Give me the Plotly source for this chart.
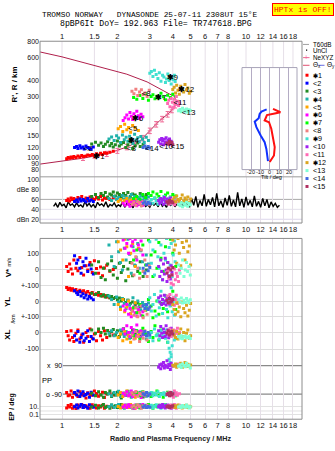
import numpy as np
import plotly.graph_objects as go

W, H = 335, 451
SANS = "Liberation Sans, Arial, Helvetica, sans-serif"
MONO = "Liberation Mono, DejaVu Sans Mono, monospace"


def px(x):
    return x / W


def py(y):
    return 1 - y / H


# ---------------------------------------------------------------- text
TITLE_1 = "TROMSO NORWAY   DYNASONDE 25-07-11 2308UT 15°E"
TITLE_2 = "8pBP6It DoY= 192.963 File= TR747618.BPG"
STATUS = "HPTx is OFF!"

FREQ_TICKS = [1, 1.5, 2, 3, 4, 5, 6, 7, 8, 10, 12, 14, 16, 18]
FREQ_TICK_TEXT = ["1", "1.5", "2", "3", "4", "5", "6", "7", "8", "10", "12", "14", "16", "18"]
RANGE_TICKS = [80, 90, 100, 120, 150, 200, 300, 400, 600, 800]
DB_TICKS = [100, 80, 60, 40, 20]
DB_TICK_TEXT = ["100", "dBe 80", "60", "40", "dBn 20"]
TILT_TICKS = [-20, -10, 0, 10, 20]

# ---------------------------------------------------------------- sources
SOURCE_NAMES = ["*1", "<2", "<3", "*4", "<5", "*6", "*7", "<8", "*9", "<10",
                "<11", "*12", "<13", "<14", "<15"]
SOURCE_COLORS = ["#ff0000", "#0000ff", "#228b22", "#20b2aa", "#ffa500", "#ff00ff",
                 "#00ff00", "#f08080", "#40e0d0", "#a020f0", "#ff69b4", "#daa520",
                 "#7fffd4", "#4169e1", "#b03060"]
LABEL_F = [1.48, 1.31, 2.25, 2.27, 2.29, 2.39, 3.2, 2.71, 3.7, 3.38, 4.03, 4.29, 4.48, 2.83, 3.9]
LABEL_H = [100.7, 115.7, 116.5, 134, 166, 201, 290, 312, 415, 120.7, 268, 338, 223, 116.5, 120.7]

# echo parameters per source: frequency MHz, range km, amplitude dBe,
# Doppler V* m/s, YL km, XL km, polarisation PP deg, EP deg
s1_f = [1.06, 1.08, 1.1, 1.12, 1.14, 1.16, 1.19, 1.22, 1.25, 1.28, 1.31, 1.35, 1.38, 1.42, 1.46, 1.5, 1.54, 1.58, 1.62, 1.66, 1.7, 1.75, 1.82, 1.9]
s1_h = [98, 100, 99, 101, 100, 102, 100, 103, 101, 104, 102, 103, 105, 104, 106, 103, 107, 105, 108, 106, 109, 108, 110, 112]
s1_db = [58, 61, 57, 63, 60, 62, 59, 64, 61, 66, 60, 63, 58, 65, 62, 60, 64, 61, 66, 59, 63, 62, 60, 64]
s1_vs = [20, -10, 35, 5, -25, 60, 10, -5, 75, 15, -30, 25, 0, 45, -15, 55, 8, -20, 18, -35, 12, 28, -8, 3]
s1_yl = [82, 70, 78, 66, 74, 62, 70, 58, 66, 55, 62, 50, 58, 46, 52, 40, 45, 35, 40, 30, 34, 25, 20, 15]
s1_xl = [5, -20, -45, 10, -30, -55, -5, 15, -40, -15, -60, 0, -25, 20, -35, -10, -50, 5, -20, -45, 10, -30, 0, -15]
s1_pp = [-80, -100, -95, -70, -110, -85, -90, -105, -75, -95, -88, -115, -82, -92, -98, -70, -86, -104, -94, -78, -112, -90, -84, -96]
s1_ep = [6, 25, 10, 40, 5, 15, 4, 30, 12, 45, 7, 20, 9, 5, 35, 14, 6, 22, 10, 28, 5, 16, 11, 8]

s2_f = [1.17, 1.2, 1.22, 1.25, 1.27, 1.3, 1.32, 1.35, 1.38, 1.41, 1.44, 1.48]
s2_h = [120, 122, 118, 124, 119, 121, 117, 123, 120, 118, 116, 121]
s2_db = [56, 59, 55, 61, 57, 60, 58, 55, 62, 57, 59, 56]
s2_vs = [85, 40, 60, 10, -20, 50, 25, 70, -10, 30, 5, -25]
s2_yl = [62, 50, 40, 58, 30, 45, 20, 35, 12, 28, 18, 8]
s2_xl = [-20, -45, 5, -60, -30, -10, -50, -35, 10, -55, -25, -40]
s2_pp = [-80, -95, -70, -105, -88, -75, -100, -92, -85, -110, -78, -96]
s2_ep = [11, 30, 6, 18, 40, 8, 25, 12, 5, 35, 15, 9]

s3_f = [1.45, 1.52, 1.58, 1.63, 1.68, 1.72, 1.77, 1.82, 1.86, 1.9, 1.95, 2.0, 2.05, 2.1, 2.16, 2.22, 2.28, 2.35, 2.42, 2.5, 2.58, 2.66, 2.76, 2.88]
s3_h = [128, 132, 125, 130, 122, 127, 133, 124, 129, 121, 126, 135, 123, 128, 131, 120, 126, 133, 118, 124, 130, 122, 127, 119]
s3_db = [66, 70, 64, 72, 68, 74, 65, 71, 69, 75, 67, 73, 70, 64, 72, 68, 74, 66, 71, 69, 63, 72, 67, 70]
s3_vs = [30, -20, 50, -45, 10, -60, 35, -5, 55, -30, 15, -50, 40, -15, 20, -65, 5, 45, -35, 25, -10, 50, -40, 0]
s3_yl = [48, 40, 52, 30, 38, 25, 33, 20, 28, 15, 22, 8, 18, 0, 10, -8, 5, -15, -5, -25, -12, -35, -20, -45]
s3_xl = [15, -5, 20, 0, 25, -10, 12, -20, 5, 18, -15, 10, -25, 8, 22, -8, 0, -30, 14, -12, 6, -22, 2, -18]
s3_pp = [-85, -100, -75, -95, -110, -80, -90, -70, -105, -88, -96, -78, -92, -115, -84, -98, -72, -90, -102, -86, -94, -80, -108, -90]
s3_ep = [10, 28, 6, 18, 40, 8, 14, 5, 32, 12, 22, 7, 16, 45, 9, 26, 11, 36, 6, 19, 13, 30, 8, 24]

s4_f = [1.8, 1.86, 1.92, 1.98, 2.03, 2.08, 2.13, 2.18, 2.23, 2.28, 2.33, 2.38, 2.43, 2.48, 2.53, 2.58, 2.63, 2.68, 2.74, 2.8, 2.87, 2.95]
s4_h = [140, 145, 136, 148, 142, 131, 150, 138, 144, 134, 147, 140, 129, 152, 137, 143, 133, 146, 139, 131, 144, 136]
s4_db = [62, 58, 66, 60, 64, 59, 68, 61, 65, 57, 63, 70, 60, 66, 58, 64, 62, 67, 59, 63, 61, 65]
s4_vs = [150, 80, 20, 170, 110, 45, 0, 130, 60, 185, 95, -20, 140, 30, 75, 160, 10, 115, 50, -10, 90, 35]
s4_yl = [30, 10, -20, 25, -5, -35, 15, -15, -45, 5, -25, -50, 20, -10, -40, 0, -30, -54, -8, -20, -38, -12]
s4_xl = [-5, 10, -20, 0, -30, 15, -10, -25, 5, -15, -35, 0, -8, -22, 12, -18, -3, -28, 6, -12, -40, -6]
s4_pp = [-88, -100, -80, -95, -72, -105, -90, -84, -98, -76, -92, -110, -86, -94, -82, -100, -88, -78, -96, -90, -104, -85]
s4_ep = [12, 30, 7, 20, 42, 9, 15, 5, 26, 11, 34, 8, 18, 6, 24, 13, 38, 10, 16, 7, 28, 12]

s5_f = [2.02, 2.08, 2.14, 2.19, 2.25, 2.3, 2.36, 2.42, 2.5, 2.6]
s5_h = [168, 175, 160, 182, 165, 172, 158, 178, 170, 163]
s5_db = [56, 60, 54, 58, 62, 55, 59, 57, 61, 53]
s5_vs = [170, 120, 60, 185, 140, -40, 100, 160, 20, 130]
s5_yl = [-20, -50, 10, -65, -35, 0, -75, -45, -10, -60]
s5_xl = [-30, -10, -50, 5, -40, -20, -60, -5, -35, -15]
s5_pp = [-95, -80, -105, -88, -70, -100, -92, -84, -110, -90]
s5_ep = [14, 6, 30, 10, 22, 8, 40, 12, 5, 18]

s6_f = [2.15, 2.2, 2.25, 2.3, 2.34, 2.38, 2.42, 2.46, 2.5, 2.55, 2.6, 2.64, 2.69, 2.75]
s6_h = [195, 205, 215, 200, 225, 210, 198, 220, 207, 230, 212, 202, 218, 208]
s6_db = [52, 48, 55, 50, 46, 54, 49, 57, 51, 47, 53, 50, 56, 48]
s6_vs = [180, 130, 160, 100, 190, 145, 170, 115, 185, 60, 150, 125, 175, 90]
s6_yl = [-30, -55, -20, -80, -45, -95, -60, -35, -70, -90, -50, -25, -85, -65]
s6_xl = [20, -10, 40, 0, -25, 30, -5, 15, -20, 45, 5, -30, 10, -15]
s6_pp = [-85, -95, -75, -100, -90, -70, -105, -82, -92, -78, -98, -88, -112, -86]
s6_ep = [10, 26, 7, 35, 14, 20, 9, 5, 30, 12, 8, 22, 11, 40]

s7_f = [2.45, 2.55, 2.65, 2.75, 2.85, 2.95, 3.05, 3.12, 3.2, 3.28, 3.36, 3.45, 3.55, 3.65, 3.75, 3.88, 4.0, 4.15]
s7_h = [295, 285, 305, 290, 315, 280, 300, 310, 288, 302, 292, 318, 298, 283, 307, 295, 312, 300]
s7_db = [62, 66, 60, 70, 64, 72, 68, 75, 63, 71, 66, 76, 61, 69, 73, 65, 70, 67]
s7_vs = [60, 120, -20, 150, 30, 180, 90, -40, 110, 10, 165, 70, -10, 140, 45, 185, 100, 20]
s7_yl = [-40, -70, -20, -90, -55, 10, -30, -100, -60, 0, -80, -15, -45, 30, -65, -25, 60, -50]
s7_xl = [-20, 10, -40, 25, -10, -55, 5, -30, 40, -15, -45, 15, -25, 0, -60, 20, -5, -35]
s7_pp = [-90, -80, -100, -75, -95, -88, -105, -84, -92, -70, -98, -86, -110, -90, -78, -96, -82, -100]
s7_ep = [11, 32, 6, 18, 9, 40, 14, 5, 24, 12, 28, 8, 16, 36, 10, 20, 7, 13]

s8_f = [2.4, 2.46, 2.52, 2.58, 2.64, 2.7, 2.76, 2.82, 2.9, 2.98]
s8_h = [330, 315, 342, 305, 325, 338, 310, 320, 300, 335]
s8_db = [50, 54, 48, 56, 52, 47, 55, 51, 53, 49]
s8_vs = [40, -30, 80, 10, -50, 120, -10, 60, -40, 25]
s8_yl = [-60, -85, -40, -95, -70, -30, -100, -55, -80, -45]
s8_xl = [-15, -40, 5, -25, -55, -5, -35, 10, -45, -20]
s8_pp = [-82, -96, -74, -104, -88, -92, -78, -100, -86, -94]
s8_ep = [10, 24, 7, 35, 13, 5, 18, 9, 28, 12]

s9_f = [3.0, 3.06, 3.12, 3.18, 3.25, 3.32, 3.38, 3.45, 3.52, 3.58, 3.65, 3.7, 3.76, 3.82, 3.87, 3.92, 3.97, 4.02, 4.08, 4.12]
s9_h = [455, 470, 430, 480, 445, 415, 460, 395, 440, 425, 385, 410, 450, 400, 430, 375, 420, 405, 440, 392]
s9_db = [55, 60, 52, 63, 57, 50, 62, 54, 59, 66, 53, 58, 61, 56, 64, 51, 60, 55, 58, 62]
s9_vs = [170, 40, 120, -30, 185, 80, 10, 150, -60, 100, 60, 190, -10, 135, 30, 160, -40, 90, 175, 50]
s9_yl = [20, -60, -20, 40, -90, 0, -40, 60, -75, -10, 30, -50, -100, 10, -30, 80, -65, -5, -85, 25]
s9_xl = [-30, 0, -50, 20, -20, -10, -40, 10, -25, -5, -35, 15, -60, -95, -120, -135, -80, -20, -45, 0]
s9_pp = [-90, -80, -100, -85, -95, -75, -105, -88, -92, -82, -98, -90, -86, 130, 110, 145, -94, -80, -100, -88]
s9_ep = [10, 26, 6, 16, 38, 9, 14, 5, 22, 11, 30, 8, 18, 12, 7, 25, 13, 34, 9, 20]

s10_f = [3.35, 3.4, 3.44, 3.48, 3.52, 3.56, 3.6, 3.64, 3.68, 3.72, 3.76, 3.8, 3.84, 3.88, 3.92, 3.96]
s10_h = [132, 138, 128, 141, 135, 126, 139, 131, 143, 129, 136, 133, 140, 127, 134, 130]
s10_db = [58, 52, 62, 55, 60, 50, 64, 57, 53, 61, 56, 59, 51, 63, 54, 58]
s10_vs = [20, -40, 60, -10, -60, 35, -25, 70, 0, -70, 45, -35, 10, -55, 25, -15]
s10_yl = [20, -5, 30, -20, 10, -15, 35, 0, -24, 15, -10, 25, -18, 5, -8, 12]
s10_xl = [10, -20, 35, -5, -30, 20, 0, -25, 40, -12, 15, -32, 5, -18, 25, -8]
s10_pp = [80, 95, 70, 100, 88, 110, 75, 92, 85, 120, 78, 96, 90, 65, 104, 86]
s10_ep = [12, 28, 7, 18, 40, 10, 15, 6, 24, 11, 33, 9, 20, 13, 5, 17]

s11_f = [3.75, 3.8, 3.86, 3.92, 3.98, 4.03, 4.08, 4.13, 4.18, 4.24, 4.3, 4.35]
s11_h = [265, 280, 250, 290, 270, 245, 285, 260, 300, 275, 255, 268]
s11_db = [55, 50, 58, 52, 60, 54, 49, 57, 53, 59, 51, 56]
s11_vs = [-10, -50, 10, -80, -30, -90, 5, -60, -20, -40, -70, 0]
s11_yl = [30, -10, 40, 0, -20, 20, -25, 10, 35, -15, 5, -5]
s11_xl = [5, -10, 20, -25, 0, 15, -20, 10, -5, 25, -15, 0]
s11_pp = [-85, -95, -78, -100, -90, -110, -70, -94, -82, -98, 100, -88]
s11_ep = [10, 22, 6, 30, 12, 8, 40, 14, 5, 18, 11, 26]

s12_f = [4.0, 4.07, 4.14, 4.2, 4.27, 4.34, 4.42, 4.5, 4.58, 4.66, 4.75, 4.83, 4.92, 5.0]
s12_h = [340, 355, 320, 368, 335, 312, 360, 345, 325, 372, 338, 350, 318, 330]
s12_db = [58, 64, 55, 67, 60, 56, 62, 69, 57, 63, 59, 65, 54, 61]
s12_vs = [180, 120, 150, 40, 190, 100, 25, 165, 135, 60, 175, 110, 145, 30]
s12_yl = [-20, -50, -80, -10, -65, -35, -95, -5, -45, -70, -25, -90, -55, -15]
s12_xl = [10, -15, -30, 5, -40, -10, 20, -25, 0, -50, -5, 15, -35, -20]
s12_pp = [92, 85, 100, 80, 95, 88, 105, 78, 90, 110, 84, 98, 86, 94]
s12_ep = [11, 25, 7, 16, 34, 9, 13, 6, 20, 10, 28, 8, 15, 12]

s13_f = [4.3, 4.38, 4.45, 4.52, 4.6, 4.68, 4.75, 4.82, 4.9, 4.98]
s13_h = [232, 238, 228, 243, 235, 230, 240, 226, 236, 233]
s13_db = [50, 47, 53, 45, 51, 48, 54, 46, 52, 49]
s13_vs = [30, -20, 10, 60, -40, 0, 45, -10, 20, -30]
s13_yl = [10, -5, 18, -12, 5, -8, 15, 0, -10, 8]
s13_xl = [-25, -35, -20, -38, -28, -22, -32, -30, -24, -36]
s13_pp = [85, 95, 78, 100, 90, 82, 105, 88, 92, 75]
s13_ep = [10, 18, 7, 24, 12, 9, 30, 14, 6, 11]

s14_f = [2.76, 2.82, 2.88, 2.94, 3.0]
s14_h = [120, 123, 118, 122, 119]
s14_db = [52, 55, 50, 54, 51]
s14_vs = [10, -20, 30, -5, 15]
s14_yl = [-30, -45, -20, -50, -35]
s14_xl = [-10, 5, -20, 0, -15]
s14_pp = [-88, -95, -80, -100, -90]
s14_ep = [10, 20, 7, 14, 9]

s15_f = [3.72, 3.78, 3.84, 3.9, 3.95, 4.0]
s15_h = [130, 127, 134, 129, 132, 126]
s15_db = [55, 52, 58, 54, 56, 53]
s15_vs = [-20, 10, -40, 0, -30, 15]
s15_yl = [5, -10, 15, -5, 0, 10]
s15_xl = [-5, 10, -15, 0, 5, -10]
s15_pp = [-92, -85, -100, -80, -95, -88]
s15_ep = [11, 18, 8, 13, 10, 22]

ECHO_F = [s1_f, s2_f, s3_f, s4_f, s5_f, s6_f, s7_f, s8_f, s9_f, s10_f, s11_f, s12_f, s13_f, s14_f, s15_f]
ECHO_H = [s1_h, s2_h, s3_h, s4_h, s5_h, s6_h, s7_h, s8_h, s9_h, s10_h, s11_h, s12_h, s13_h, s14_h, s15_h]
ECHO_DB = [s1_db, s2_db, s3_db, s4_db, s5_db, s6_db, s7_db, s8_db, s9_db, s10_db, s11_db, s12_db, s13_db, s14_db, s15_db]
ECHO_VS = [s1_vs, s2_vs, s3_vs, s4_vs, s5_vs, s6_vs, s7_vs, s8_vs, s9_vs, s10_vs, s11_vs, s12_vs, s13_vs, s14_vs, s15_vs]
ECHO_YL = [s1_yl, s2_yl, s3_yl, s4_yl, s5_yl, s6_yl, s7_yl, s8_yl, s9_yl, s10_yl, s11_yl, s12_yl, s13_yl, s14_yl, s15_yl]
ECHO_XL = [s1_xl, s2_xl, s3_xl, s4_xl, s5_xl, s6_xl, s7_xl, s8_xl, s9_xl, s10_xl, s11_xl, s12_xl, s13_xl, s14_xl, s15_xl]
ECHO_PP = [s1_pp, s2_pp, s3_pp, s4_pp, s5_pp, s6_pp, s7_pp, s8_pp, s9_pp, s10_pp, s11_pp, s12_pp, s13_pp, s14_pp, s15_pp]
ECHO_EP = [s1_ep, s2_ep, s3_ep, s4_ep, s5_ep, s6_ep, s7_ep, s8_ep, s9_ep, s10_ep, s11_ep, s12_ep, s13_ep, s14_ep, s15_ep]

# receiver noise level across the sweep (dBn)
NOISE_DB = [46, 52, 44, 54, 47, 50, 43, 55, 48, 51, 45, 53, 46, 49, 44, 56, 47, 52, 45, 50,
            43, 54, 48, 51, 46, 55, 44, 50, 47, 53, 45, 49, 46, 56, 44, 52, 48, 50, 43, 54,
            47, 51, 45, 55, 46, 49, 44, 53, 48, 52, 45, 57, 46, 50, 44, 54, 47, 58, 45, 51,
            48, 55, 46, 60, 47,
            45, 62, 48, 66, 44, 58, 47, 70, 46, 60, 49, 64, 45, 72, 47, 57, 44, 63, 48, 68,
            46, 59, 45, 74, 47, 61, 44, 65, 48, 58, 45, 67, 46, 56, 44, 62, 47, 60, 43, 55,
            46, 52, 44, 48]
NOISE_F_START, NOISE_F_STOP = 0.9, 15.2
T60_DB = 60

# electron density profile (plasma frequency vs true height)
PROFILE_F = [0.76, 1.0, 1.3, 1.75, 2.25, 2.65, 2.85, 3.05, 3.4, 3.75, 4.0, 4.2, 4.1, 3.85, 3.55, 2.9, 2.25, 1.55, 1.0, 0.76]
PROFILE_H = [89, 94, 99, 107, 121, 135, 150, 168, 195, 218, 240, 272, 300, 313, 333, 390, 448, 520, 612, 668]
NE_F = [1.3, 1.5, 1.75, 2.0, 2.25, 2.5, 2.75, 3.0, 3.25, 3.5, 3.75, 3.95, 4.12]
NE_H = [99, 103, 107, 113, 121, 130, 142, 162, 182, 200, 218, 236, 258]
NE_ERR = [4, 4, 5, 5, 6, 6, 7, 8, 9, 10, 11, 12, 14]

# tilt profiles
TILT_X_H = [240, 233, 226, 221, 215, 195, 189, 168, 140, 121, 104, 95.5, 92.6]
TILT_X = [3.2, 6.7, 11, 5, -3.2, -5.6, -1, 1.4, 3.2, 5, 4.2, 1.4, -0.3]
TILT_Y_H = [238, 229, 219, 203, 191, 173, 149, 132, 117, 104, 93.8]
TILT_Y = [-3.5, -9, -10.9, -11.9, -16.1, -14.3, -9.8, -5.6, -3.8, -3.2, -2.1]

# ---------------------------------------------------------------- geometry
XR = [-0.1196, 1.3043]
F_RIGHT = 10 ** XR[1]
X_DOM = [px(40), px(302)]
Y_TOP = [py(175), py(38.5)]
Y_DBE = [py(221.5), py(175)]
Y_VEL = [py(355), py(237)]
Y_PP = [py(400), py(355)]
Y_EP = [py(419), py(400)]
INSET_X = [px(242), px(297)]
INSET_Y = [py(167.7), py(65)]
YL_OFFSET = -188
XL_OFFSET = -377

GRID_V = "#e6dfe8"
BOX = "#8c8c8c"

fig = go.Figure()

# noise trace
noise_f = np.geomspace(NOISE_F_START, NOISE_F_STOP, len(NOISE_DB))
fig.add_trace(go.Scatter(x=noise_f, y=NOISE_DB, xaxis="x2", yaxis="y2", mode="lines",
                         line=dict(color="black", width=1.4), hoverinfo="skip"))

# density profile and NeXYZ points
fig.add_trace(go.Scatter(x=PROFILE_F, y=PROFILE_H, xaxis="x", yaxis="y", mode="lines",
                         line=dict(color="#b0204c", width=1), hoverinfo="skip"))
fig.add_trace(go.Scatter(x=NE_F, y=NE_H, xaxis="x", yaxis="y", mode="markers",
                         marker=dict(symbol="line-ew", size=3, color="#f06a96",
                                     line=dict(width=1, color="#f06a96")),
                         error_y=dict(type="data", array=NE_ERR, color="#f06a96",
                                      thickness=1, width=2),
                         hoverinfo="skip"))

for i, name in enumerate(SOURCE_NAMES):
    col = SOURCE_COLORS[i]
    n = min(len(a[i]) for a in (ECHO_F, ECHO_H, ECHO_DB, ECHO_VS, ECHO_YL, ECHO_XL, ECHO_PP, ECHO_EP))
    f = ECHO_F[i][:n]
    mk = dict(symbol="square", size=3, color=col, line=dict(width=0))
    fig.add_trace(go.Scatter(x=f, y=ECHO_H[i][:n], xaxis="x", yaxis="y", mode="markers",
                             marker=mk, hoverinfo="skip"))
    fig.add_trace(go.Scatter(x=f, y=ECHO_DB[i][:n], xaxis="x2", yaxis="y2", mode="markers",
                             marker=mk, hoverinfo="skip"))
    stacked = (list(ECHO_VS[i][:n])
               + [v + YL_OFFSET for v in ECHO_YL[i][:n]]
               + [v + XL_OFFSET for v in ECHO_XL[i][:n]])
    fig.add_trace(go.Scatter(x=f * 3, y=stacked, xaxis="x3", yaxis="y3", mode="markers",
                             marker=mk, hoverinfo="skip"))
    fig.add_trace(go.Scatter(x=f, y=ECHO_PP[i][:n], xaxis="x4", yaxis="y4", mode="markers",
                             marker=mk, hoverinfo="skip"))
    fig.add_trace(go.Scatter(x=f, y=ECHO_EP[i][:n], xaxis="x5", yaxis="y5", mode="markers",
                             marker=mk, hoverinfo="skip"))

# source labels on the range panel
label_text = [("<b>✱</b>" + n[1:]) if n.startswith("*") else n for n in SOURCE_NAMES]
legend_text = [("<span style='font-size:6px'><b>✱</b></span>" + n[1:]) if n.startswith("*") else n
               for n in SOURCE_NAMES]
fig.add_trace(go.Scatter(x=LABEL_F, y=LABEL_H, xaxis="x", yaxis="y", mode="text",
                         text=label_text, textposition="middle right",
                         textfont=dict(family=SANS, size=8, color="black"),
                         hoverinfo="skip"))

# tilt inset
fig.add_trace(go.Scatter(x=TILT_X, y=TILT_X_H, xaxis="x6", yaxis="y6", mode="lines",
                         line=dict(color="#ff1010", width=2), hoverinfo="skip"))
fig.add_trace(go.Scatter(x=TILT_Y, y=TILT_Y_H, xaxis="x6", yaxis="y6", mode="lines",
                         line=dict(color="#1030ff", width=2), hoverinfo="skip"))

# ---------------------------------------------------------------- axes
tick_font = dict(family=SANS, size=7.5, color="#111")
common_x = dict(type="log", range=XR, domain=X_DOM, tickvals=FREQ_TICKS,
                ticktext=FREQ_TICK_TEXT, ticks="", showline=False, zeroline=False,
                tickangle=0, fixedrange=True, tickfont=tick_font, gridcolor=GRID_V, gridwidth=1)
common_y = dict(ticks="", showline=False, zeroline=False, fixedrange=True,
                tickfont=dict(family=SANS, size=7, color="#111"))

layout_axes = dict(
    xaxis=dict(common_x, anchor="y", side="top", showgrid=False, showticklabels=True),
    xaxis2=dict(common_x, anchor="y2", showgrid=True, showticklabels=True),
    xaxis3=dict(common_x, anchor="y3", showgrid=True, showticklabels=False),
    xaxis4=dict(common_x, anchor="y4", showgrid=True, showticklabels=False),
    xaxis5=dict(common_x, anchor="y5", showgrid=True, showticklabels=True),
    yaxis=dict(common_y, domain=Y_TOP, anchor="x", type="log", range=[1.850, 2.9085],
               tickvals=RANGE_TICKS, ticktext=[str(v) for v in RANGE_TICKS], showgrid=False),
    yaxis2=dict(common_y, domain=Y_DBE, anchor="x2", range=[12.4, 105.4],
                tickvals=DB_TICKS, ticktext=DB_TICK_TEXT, showgrid=False),
    yaxis3=dict(common_y, domain=Y_VEL, anchor="x3", range=[-517, 190],
                tickvals=[100, 0, -94, YL_OFFSET, -283, XL_OFFSET, XL_OFFSET - 100],
                ticktext=["100", "0", "+-100", "0", "+-100", "0", "-100"],
                showgrid=True, gridcolor="#dedede"),
    yaxis4=dict(common_y, domain=Y_PP, anchor="x4", range=[-129.5, 152.7],
                showticklabels=False, showgrid=False),
    yaxis5=dict(common_y, domain=Y_EP, anchor="x5", type="log", range=[-2.075, 2.675],
                tickvals=[10, 0.1], ticktext=["10.", "0.1"],
                showgrid=True, gridcolor="#e2e2e2"),
    xaxis6=dict(domain=INSET_X, anchor="y6", range=[-29.5, 28.5], tickvals=TILT_TICKS,
                showticklabels=False, ticks="", showline=False,
                zeroline=False, showgrid=True, gridcolor="#b4acc4", fixedrange=True),
    yaxis6=dict(domain=INSET_Y, anchor="x6", type="log", range=[1.907, 2.703],
                showticklabels=False, showgrid=False, zeroline=False, showline=False,
                fixedrange=True),
)

# ---------------------------------------------------------------- shapes
shapes = []
inset_lo = (175 - 167.7) / (175 - 38.5)
inset_hi = (175 - 65) / (175 - 38.5)
for fv in FREQ_TICKS:
    spans = [(0, 1)] if fv < 9.5 else [(0, inset_lo), (inset_hi, 1)]
    for a, b in spans:
        shapes.append(dict(type="line", xref="x", yref="y domain", x0=fv, x1=fv, y0=a, y1=b,
                           line=dict(color=GRID_V, width=1), layer="below"))
for lvl, colr in ((40, "#e2e0ea"), (20, "#dcd6ec")):
    shapes.append(dict(type="line", xref="paper", yref="y2", x0=X_DOM[0], x1=X_DOM[1],
                       y0=lvl, y1=lvl, line=dict(color=colr, width=1), layer="below"))
shapes.append(dict(type="line", xref="paper", yref="y2", x0=X_DOM[0], x1=X_DOM[1],
                   y0=T60_DB, y1=T60_DB, line=dict(color="#a8a8a8", width=1), layer="below"))
shapes.append(dict(type="line", xref="paper", yref="y5", x0=X_DOM[0], x1=X_DOM[1],
                   y0=1, y1=1, line=dict(color="#e2e2e2", width=1), layer="below"))
for lvl in (90, -90):
    shapes.append(dict(type="line", xref="x4", yref="y4", x0=1, x1=F_RIGHT, y0=lvl, y1=lvl,
                       line=dict(color="#8a8a8a", width=1.2), layer="below"))
shapes.append(dict(type="rect", xref="paper", yref="paper", x0=X_DOM[0], x1=X_DOM[1],
                   y0=py(221.5), y1=py(38.5), line=dict(color=BOX, width=1)))
shapes.append(dict(type="line", xref="paper", yref="paper", x0=X_DOM[0], x1=X_DOM[1],
                   y0=py(175), y1=py(175), line=dict(color="#9a9a9a", width=1)))
shapes.append(dict(type="rect", xref="paper", yref="paper", x0=X_DOM[0], x1=X_DOM[1],
                   y0=py(419), y1=py(237), line=dict(color=BOX, width=1)))
shapes.append(dict(type="rect", xref="paper", yref="paper", x0=INSET_X[0], x1=INSET_X[1],
                   y0=INSET_Y[0], y1=INSET_Y[1], line=dict(color="#a8a4b8", width=1)))

# legend glyphs
LEG_Y0, LEG_DY = 72.7, 8.0
for i, col in enumerate(SOURCE_COLORS):
    yc = LEG_Y0 + LEG_DY * i
    shapes.append(dict(type="rect", xref="paper", yref="paper", x0=px(305.5), x1=px(308.5),
                       y0=py(yc + 1.5), y1=py(yc - 1.5), fillcolor=col, line=dict(width=0)))
shapes.append(dict(type="line", xref="paper", yref="paper", x0=px(303), x1=px(309),
                   y0=py(41.7), y1=py(41.7), line=dict(color="#a0a0a0", width=1)))
shapes.append(dict(type="line", xref="paper", yref="paper", x0=px(303), x1=px(309.5),
                   y0=py(55), y1=py(55), line=dict(color="#f06a96", width=1)))
shapes.append(dict(type="line", xref="paper", yref="paper", x0=px(303), x1=px(309.5),
                   y0=py(62.7), y1=py(62.7), line=dict(color="#e05070", width=1)))
shapes.append(dict(type="line", xref="paper", yref="paper", x0=px(318.5), x1=px(324.5),
                   y0=py(62.7), y1=py(62.7), line=dict(color="#6a6ae0", width=1)))
# unclassified-echo dot in the legend
shapes.append(dict(type="rect", xref="paper", yref="paper", x0=px(306), x1=px(307.2),
                   y0=py(48), y1=py(46.8), fillcolor="black", line=dict(width=0)))

# ---------------------------------------------------------------- annotations
annotations = []


def note(x, y, text, size=7.5, anchor="center", color="black", family=SANS, angle=0, **kw):
    annotations.append(dict(x=px(x), y=py(y), xref="paper", yref="paper", text=text,
                            showarrow=False, xanchor=anchor, yanchor="middle",
                            textangle=angle, font=dict(family=family, size=size, color=color),
                            **kw))


note(150, 12, TITLE_1, size=7.8, family=MONO)
note(156, 20.3, TITLE_2, size=8.2, family=MONO)
note(302.5, 7, STATUS, size=8, family=MONO, color="#ff0000", bgcolor="#ffff00",
     bordercolor="#ff0000", borderwidth=1, borderpad=1)
note(14, 82, "<b>R', R / km</b>", size=8, angle=-90)
note(8, 266, "<b>V*</b> <span style='font-size:5.5px'>m/s</span>", size=8, angle=-90)
note(8, 301, "<b>YL</b>", size=8, angle=-90)
note(12.5, 318, "/km", size=5.5, angle=-90)
note(8, 334, "<b>XL</b>", size=8, angle=-90)
note(12.5, 406, "<b>EP / deg</b>", size=7, angle=-90)
note(54, 365, "x  90", size=7)
note(47, 380, "PP", size=7.5)
note(54, 393.7, "o -90", size=7)
note(170, 438.7, "<b>Radio and Plasma Frequency / MHz</b>", size=7.2, color="#222")

# tilt inset tick labels and title, tucked just under the inset frame
for t in TILT_TICKS:
    annotations.append(dict(x=t, xref="x6", y=py(170.2), yref="paper", text=str(t),
                            showarrow=False, xanchor="center", yanchor="middle",
                            font=dict(family=SANS, size=5.5, color="#111")))
note(271, 175.6, "Tilt / deg", size=5.5)

note(311, 41.7, "T60dB", size=6.3, anchor="left")
note(311, 47.6, "UnCl", size=6.3, anchor="left")
note(306, 55, "+", size=7.5, color="#f06a96")
note(311, 55, "NeXYZ", size=6.3, anchor="left")
note(310.5, 62.7, "Θ<sub>x</sub>", size=6.5, anchor="left")
note(325, 62.7, "Θ<sub>y</sub>", size=6.5, anchor="left")
for i, lab in enumerate(legend_text):
    note(311, LEG_Y0 + LEG_DY * i, lab, size=7.2, anchor="left")

fig.update_layout(
    width=W, height=H, margin=dict(l=0, r=0, t=0, b=0),
    paper_bgcolor="white", plot_bgcolor="white", showlegend=False,
    shapes=shapes, annotations=annotations, **layout_axes,
)

fig.write_html("out.html", config={"displayModeBar": False})
